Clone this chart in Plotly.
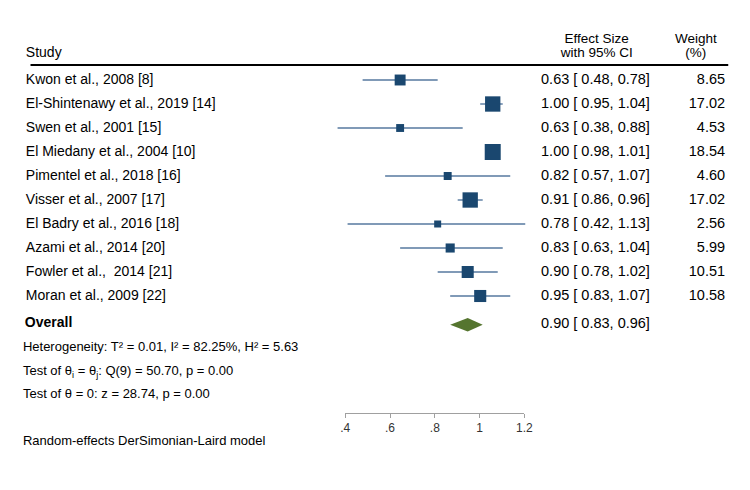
import plotly.graph_objects as go

# study-level data
studies = ["Kwon et al., 2008 [8]", "El-Shintenawy et al., 2019 [14]", "Swen et al., 2001 [15]",
           "El Miedany et al., 2004 [10]", "Pimentel et al., 2018 [16]", "Visser et al., 2007 [17]",
           "El Badry et al., 2016 [18]", "Azami et al., 2014 [20]", "Fowler et al.,  2014 [21]",
           "Moran et al., 2009 [22]"]
es = [0.63, 1.00, 0.63, 1.00, 0.82, 0.91, 0.78, 0.83, 0.90, 0.95]
lo = [0.48, 0.95, 0.38, 0.98, 0.57, 0.86, 0.42, 0.63, 0.78, 0.83]
hi = [0.78, 1.04, 0.88, 1.01, 1.07, 0.96, 1.13, 1.04, 1.02, 1.07]
weight = [8.65, 17.02, 4.53, 18.54, 4.60, 17.02, 2.56, 5.99, 10.51, 10.58]

overall_es, overall_lo, overall_hi = 0.90, 0.83, 0.96
axis_ticks = [0.4, 0.6, 0.8, 1.0, 1.2]
axis_labels = [".4", ".6", ".8", "1", "1.2"]

W, H = 750, 490
FONT = "Liberation Sans, Arial, sans-serif"
NAVY = "#1a476f"
GREEN = "#55752f"
PAD = 4.75  # plotly's built-in gap between a text point and its text

rows = list(range(len(studies)))
overall_row = 10.2

# data axis is laid out so that x_px = 242 + 255 * value
x0, k = 242, 255
def vx(p):
    return (p - x0) / k

fig = go.Figure()

# confidence interval lines
cx, cy = [], []
for r, l, h in zip(rows, lo, hi):
    cx += [l, h, None]
    cy += [r, r, None]
fig.add_trace(go.Scatter(x=cx, y=cy, mode="lines", line=dict(color="#56799f", width=1.4),
                         hoverinfo="skip", showlegend=False))

# weighted squares
sizes = [max(7, 16 * (w / max(weight)) ** 0.5) for w in weight]
fig.add_trace(go.Scatter(
    x=es, y=rows, mode="markers",
    marker=dict(symbol="square", size=sizes, color=NAVY, opacity=1, line=dict(width=0)),
    hoverinfo="skip", showlegend=False))

# overall diamond
d = 0.28
fig.add_trace(go.Scatter(
    x=[overall_lo, overall_es, overall_hi, overall_es, overall_lo],
    y=[overall_row, overall_row - d, overall_row, overall_row + d, overall_row],
    mode="lines", fill="toself", fillcolor=GREEN, line=dict(width=0, color=GREEN),
    hoverinfo="skip", showlegend=False))

# dummy trace so the bottom axis gets drawn
fig.add_trace(go.Scatter(x=axis_ticks, y=[0] * len(axis_ticks), xaxis="x2", yaxis="y2",
                         mode="markers", marker=dict(opacity=0), hoverinfo="skip", showlegend=False))

def txt(xp, ys, texts, pos="middle right", size=14.5):
    if pos.endswith("right"):
        xp -= PAD
    elif pos.endswith("left"):
        xp += PAD
    fig.add_trace(go.Scatter(x=[vx(xp)] * len(ys), y=ys, mode="text", text=texts,
                             textposition=pos, textfont=dict(family=FONT, size=size, color="black"),
                             hoverinfo="skip", showlegend=False))

# headers
txt(26, [-1.125], ["Study"], size=14)
txt(603, [-1.667, -1.083], ["Effect Size", "with 95% CI"], "middle center", size=13.5)
txt(704, [-1.667, -1.083], ["Weight", "(%)"], "middle center", size=13.5)

# rows
txt(26, rows, studies, size=14)
txt(551, rows + [overall_row],
    [f"{e:.2f} [ {l:.2f}, {h:.2f}]" for e, l, h in zip(es, lo, hi)]
    + [f"{overall_es:.2f} [ {overall_lo:.2f}, {overall_hi:.2f}]"])
txt(729, rows, [f"{w:.2f}" for w in weight], "middle left")

txt(25, [overall_row - 0.04], ["<b>Overall</b>"], size=14)
txt(23, [11.17, 12.17, 13.13, 15.08],
    ["Heterogeneity: T² = 0.01, I² = 82.25%, H² = 5.63",
     "Test of θ<sub>i</sub> = θ<sub>j</sub>: Q(9) = 50.70, p = 0.00",
     "Test of θ = 0: z = 28.74, p = 0.00",
     "Random-effects DerSimonian-Laird model"], size=13)

fig.update_layout(
    width=W, height=H,
    margin=dict(l=0, r=0, t=0, b=0),
    paper_bgcolor="white", plot_bgcolor="white",
    xaxis=dict(range=[vx(0), vx(W)], visible=False, domain=[0, 1]),
    yaxis=dict(range=[(H - 80) / 24, (0 - 80) / 24], visible=False, domain=[0, 1]),
    xaxis2=dict(domain=[346.7 / W, 529.3 / W], range=[0.4, 1.2], anchor="y2",
                tickvals=axis_ticks, ticktext=axis_labels, showline=True, linecolor="#a0a0a0",
                linewidth=1, ticks="outside", ticklen=4, tickcolor="#a0a0a0", showgrid=False,
                zeroline=False, tickfont=dict(family=FONT, size=12, color="#333333")),
    yaxis2=dict(domain=[(H - 413) / H, (H - 405) / H], visible=False, range=[0, 1]),
    shapes=[dict(type="line", xref="x", yref="y", x0=vx(26), x1=vx(737),
                 y0=-0.625, y1=-0.625, line=dict(color="black", width=2))],
    showlegend=False,
)

fig.write_html("out.html", config={"displayModeBar": False},
               post_script=["document.body.style.margin='0';"
                            "document.body.style.overflow='hidden';"
                            "document.documentElement.style.overflow='hidden';"])
